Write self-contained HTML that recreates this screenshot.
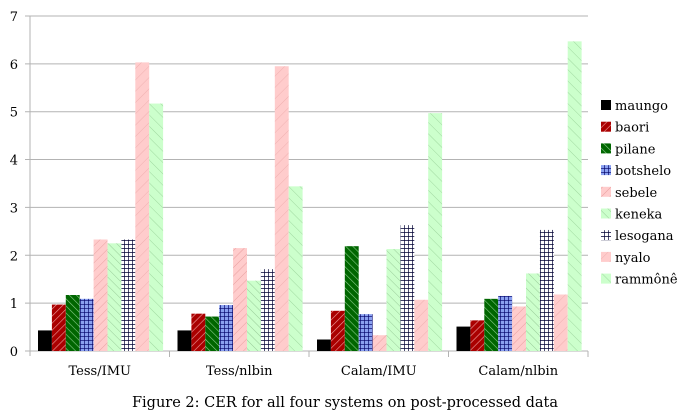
<!DOCTYPE html>
<html><head><meta charset="utf-8"><style>
html,body{margin:0;padding:0;background:#fff;width:691px;height:414px;overflow:hidden}
svg text{font-family:"DejaVu Serif","Liberation Serif",serif}
</style></head><body>
<svg id="s" width="691" height="414" xmlns="http://www.w3.org/2000/svg">
<defs>
<pattern id="p1" width="5" height="5" patternUnits="userSpaceOnUse" patternTransform="rotate(45)"><rect width="5" height="5" fill="#a00"/><line x1="0" y1="0" x2="0" y2="5" stroke="#f0a0a0" stroke-width="1.2"/></pattern>
<pattern id="p2" width="5" height="5" patternUnits="userSpaceOnUse" patternTransform="rotate(-45)"><rect width="5" height="5" fill="#060"/><line x1="0" y1="0" x2="0" y2="5" stroke="#8c8" stroke-width="1.2"/></pattern>
<pattern id="p3" width="4" height="4" patternUnits="userSpaceOnUse"><rect width="4" height="4" fill="#8aa0f0"/><path d="M0 0H4M0 0V4" stroke="#006" stroke-width="1.3"/></pattern>
<pattern id="p4" width="6" height="6" patternUnits="userSpaceOnUse" patternTransform="rotate(45)"><rect width="6" height="6" fill="#fcc"/><line x1="0" y1="0" x2="0" y2="6" stroke="#e9a0a0" stroke-width="1"/></pattern>
<pattern id="p5" width="6" height="6" patternUnits="userSpaceOnUse" patternTransform="rotate(-45)"><rect width="6" height="6" fill="#cfc"/><line x1="0" y1="0" x2="0" y2="6" stroke="#9c9" stroke-width="1"/></pattern>
<pattern id="p6" width="4" height="4" patternUnits="userSpaceOnUse"><rect width="4" height="4" fill="#fff"/><path d="M0 0H4M0 0V4" stroke="#003" stroke-width="1.4"/></pattern>
<pattern id="p7" width="8" height="8" patternUnits="userSpaceOnUse" patternTransform="rotate(45)"><rect width="8" height="8" fill="#fcc"/><line x1="0" y1="0" x2="0" y2="8" stroke="#f0b0b0" stroke-width="1"/></pattern>
<pattern id="p8" width="8" height="8" patternUnits="userSpaceOnUse" patternTransform="rotate(-45)"><rect width="8" height="8" fill="#cfc"/><line x1="0" y1="0" x2="0" y2="8" stroke="#a0d8a0" stroke-width="1"/></pattern>
</defs>
<g id="g"></g>
</svg>
<script>
var g=document.getElementById('g'),h='';
var y0=351,u=47.86,x0=30,x1=588;
for(var i=0;i<=7;i++){var y=y0-i*u;h+='<line x1="'+(x0-5)+'" x2="'+x1+'" y1="'+y+'" y2="'+y+'" stroke="#b3b3b3" stroke-width="1"/>';h+='<text x="18" y="'+(y+5)+'" font-size="13" text-anchor="end">'+i+'</text>';}
h+='<line x1="'+x0+'" x2="'+x0+'" y1="'+(y0-7*u)+'" y2="'+(y0+5)+'" stroke="#b3b3b3"/>';
for(var k=1;k<=4;k++){var x=x0+k*139.5;h+='<line x1="'+x+'" x2="'+x+'" y1="'+y0+'" y2="'+(y0+6)+'" stroke="#b3b3b3"/>';}
var d=[[0.43,0.97,1.17,1.09,2.33,2.25,2.33,6.03,5.17],[0.43,0.78,0.72,0.96,2.15,1.47,1.71,5.95,3.44],[0.24,0.84,2.19,0.77,0.33,2.13,2.63,1.07,4.97],[0.51,0.64,1.09,1.15,0.93,1.62,2.53,1.18,6.47]];
var f=['#000','url(#p1)','url(#p2)','url(#p3)','url(#p4)','url(#p5)','url(#p6)','url(#p7)','url(#p8)'];
var labs=['Tess/IMU','Tess/nlbin','Calam/IMU','Calam/nlbin'];
for(var gi=0;gi<4;gi++){var gx=x0+gi*139.5+8;for(var b=0;b<9;b++){var v=d[gi][b],bx=gx+b*13.9,hh=v*u;h+='<rect x="'+bx+'" y="'+(y0-hh)+'" width="13.9" height="'+hh+'" fill="'+f[b]+'"/>';}
h+='<text x="'+(x0+gi*139.5+69.75)+'" y="375" font-size="13" text-anchor="middle">'+labs[gi]+'</text>';}
var nm=['maungo','baori','pilane','botshelo','sebele','keneka','lesogana','nyalo','rammônê'];
for(var j=0;j<9;j++){var ly=100+j*21.7;h+='<rect x="601" y="'+ly+'" width="10" height="10" fill="'+f[j]+'"/>';h+='<text x="615" y="'+(ly+10)+'" font-size="13">'+nm[j]+'</text>';}
h+='<text x="345" y="407" font-size="14.5" text-anchor="middle">Figure 2: CER for all four systems on post-processed data</text>';
g.innerHTML=h;
</script>
</body></html>
